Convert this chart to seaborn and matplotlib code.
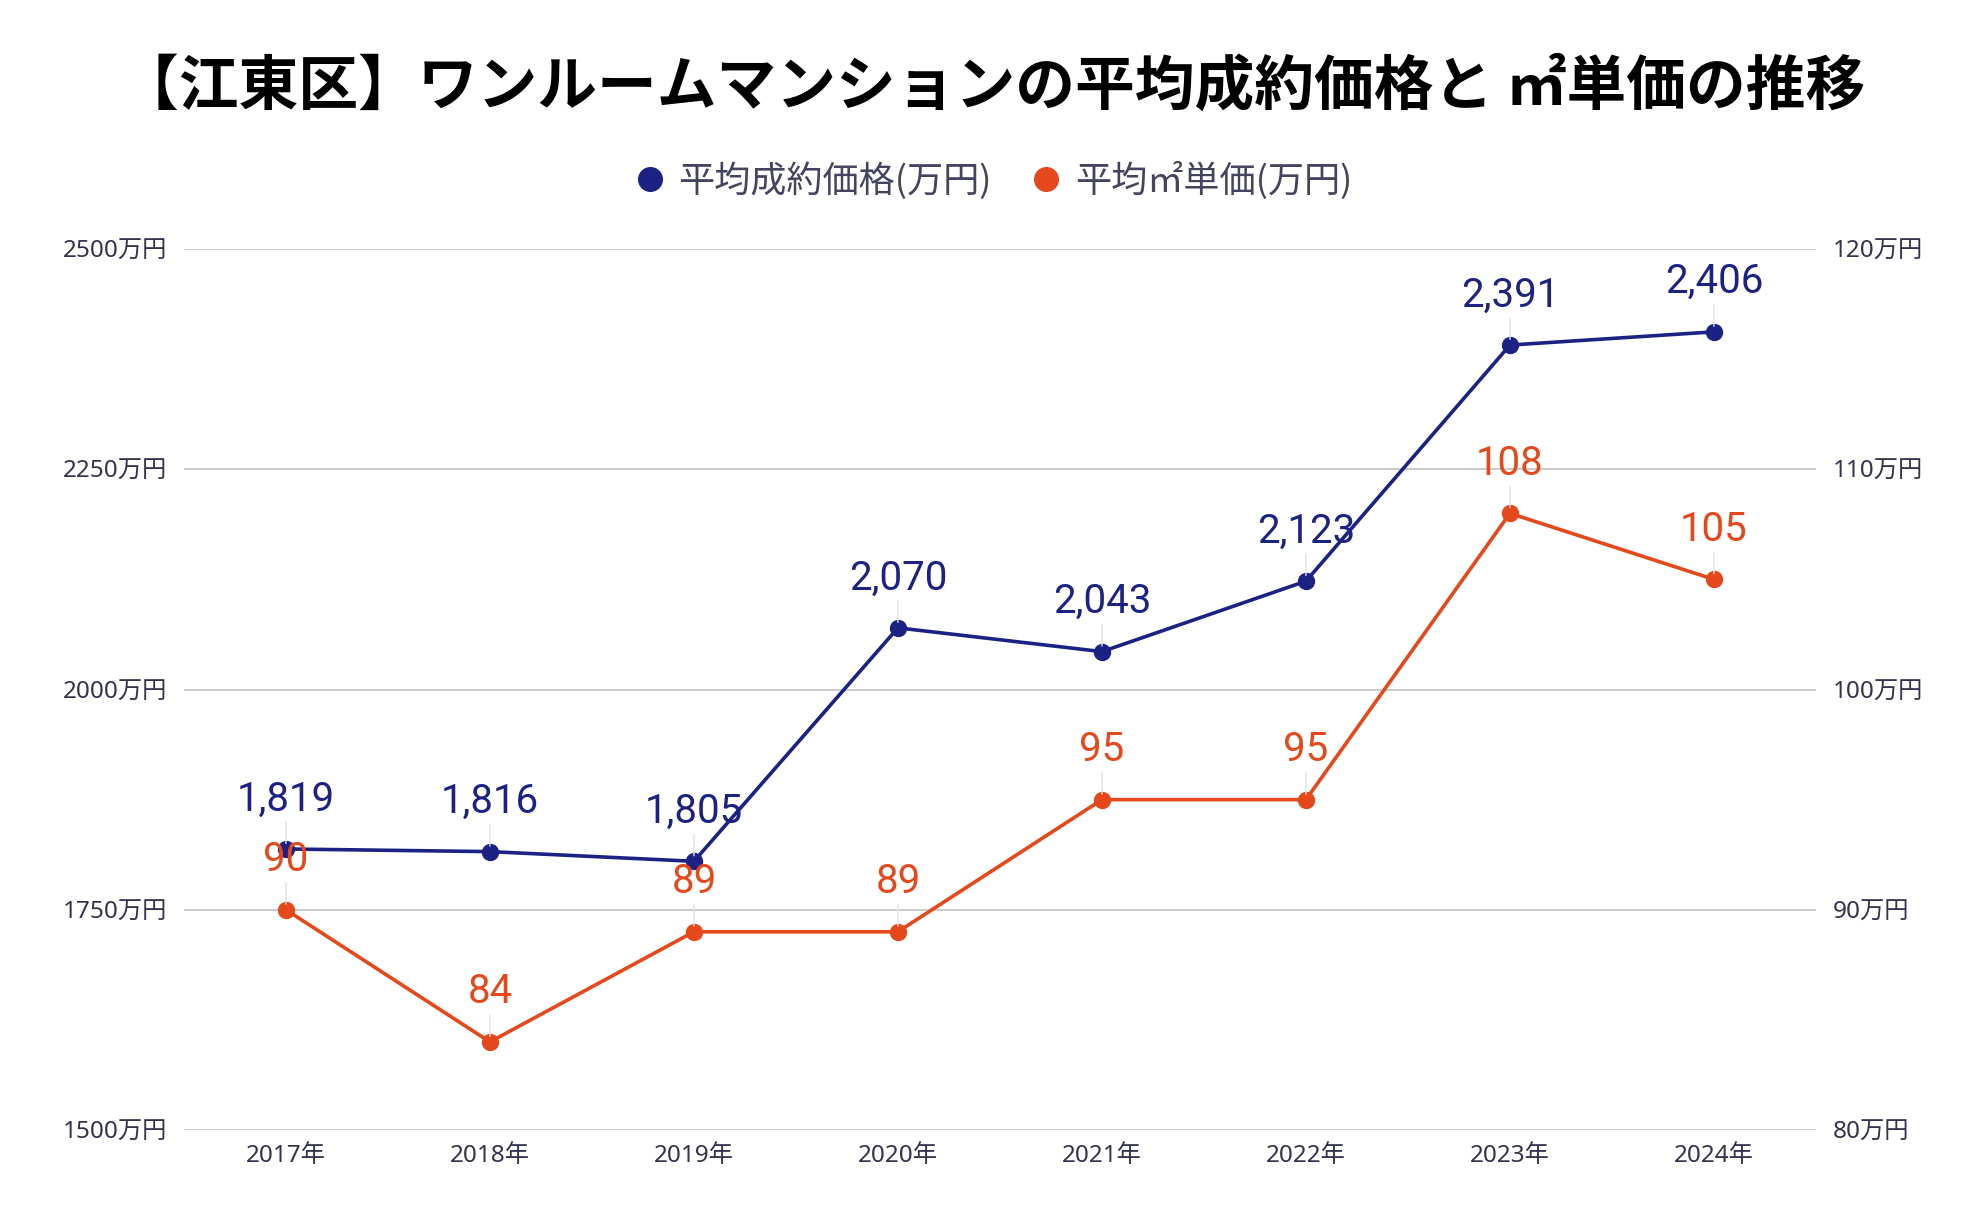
import numpy as np
import pandas as pd
import seaborn as sns
import matplotlib.pyplot as plt
from matplotlib.lines import Line2D

years = ['2017年', '2018年', '2019年', '2020年', '2021年', '2022年', '2023年', '2024年']
avg_price = [1819, 1816, 1805, 2070, 2043, 2123, 2391, 2406]
unit_price = [90, 84, 89, 89, 95, 95, 108, 105]
left_ticks = [1500, 1750, 2000, 2250, 2500]
right_ticks = [80, 90, 100, 110, 120]

navy = '#1c2283'
orange = '#e5481a'
tick_col = '#33334d'

sns.set_theme(style='white')
plt.rcParams['font.family'] = ['Noto Sans CJK JP', 'DejaVu Sans']
tick_font = ['Noto Sans', 'Noto Sans CJK JP']

df = pd.DataFrame({'x': np.arange(len(years)), 'price': avg_price, 'unit': unit_price})

fig = plt.figure(figsize=(19.84, 12.28), dpi=100)
ax = fig.add_axes([0.0927, 0.0798, 0.8226, 0.7174])
ax2 = ax.twinx()

sns.lineplot(data=df, x='x', y='price', ax=ax, color=navy, lw=2.6,
             marker='o', markersize=12.5, markeredgewidth=0, zorder=3)
sns.lineplot(data=df, x='x', y='unit', ax=ax2, color=orange, lw=2.6,
             marker='o', markersize=12.5, markeredgewidth=0, zorder=3)

ax.set_ylim(1500, 2500)
ax2.set_ylim(80, 120)
ax.set_xlim(-0.5, len(years) - 0.5)
ax.set_yticks(left_ticks)
ax.set_yticklabels([f'{v}万円' for v in left_ticks])
ax2.set_yticks(right_ticks)
ax2.set_yticklabels([f'{v}万円' for v in right_ticks])
ax.set_xticks(df['x'])
ax.set_xticklabels(years)
ax.set_xlabel('')
ax.set_ylabel('')
ax2.set_ylabel('')

ax.grid(axis='y', color='#c6c6c6', lw=1.3)
ax.grid(axis='x', visible=False)
ax2.grid(False)
for a in (ax, ax2):
    for s in a.spines.values():
        s.set_visible(False)
    a.tick_params(length=0, labelsize=17.5, colors=tick_col, pad=12)
    for lab in a.get_xticklabels() + a.get_yticklabels():
        lab.set_family(tick_font)
ax.tick_params(axis='x', pad=10)

# data labels with thin leader lines
for i in range(len(years)):
    ax.annotate(f'{avg_price[i]:,}', xy=(i, avg_price[i]), xytext=(0, 22),
                textcoords='offset points', ha='center', va='bottom',
                fontsize=29, color=navy, family=['Roboto', 'DejaVu Sans'],
                arrowprops=dict(arrowstyle='-', color='#e2e2e2', lw=1,
                                shrinkA=0, shrinkB=4), zorder=5)
    ax2.annotate(f'{unit_price[i]}', xy=(i, unit_price[i]), xytext=(0, 22),
                 textcoords='offset points', ha='center', va='bottom',
                 fontsize=29, color=orange, family=['Roboto', 'DejaVu Sans'],
                 arrowprops=dict(arrowstyle='-', color='#e2e2e2', lw=1,
                                 shrinkA=0, shrinkB=4), zorder=5)

fig.suptitle('【江東区】ワンルームマンションの平均成約価格と ㎡単価の推移',
             x=0.5, y=0.953, fontsize=43, fontweight='bold', color='black')

handles = [Line2D([], [], ls='none', marker='o', markersize=17, color=navy),
           Line2D([], [], ls='none', marker='o', markersize=17, color=orange)]
fig.legend(handles, ['平均成約価格(万円)', '平均㎡単価(万円)'], loc='center',
           bbox_to_anchor=(0.5, 0.853), ncol=2, frameon=False, fontsize=26,
           labelcolor='#44445e', handletextpad=0.3, columnspacing=1.0,
           handlelength=1.0)

fig.savefig('out.png', dpi=100)
